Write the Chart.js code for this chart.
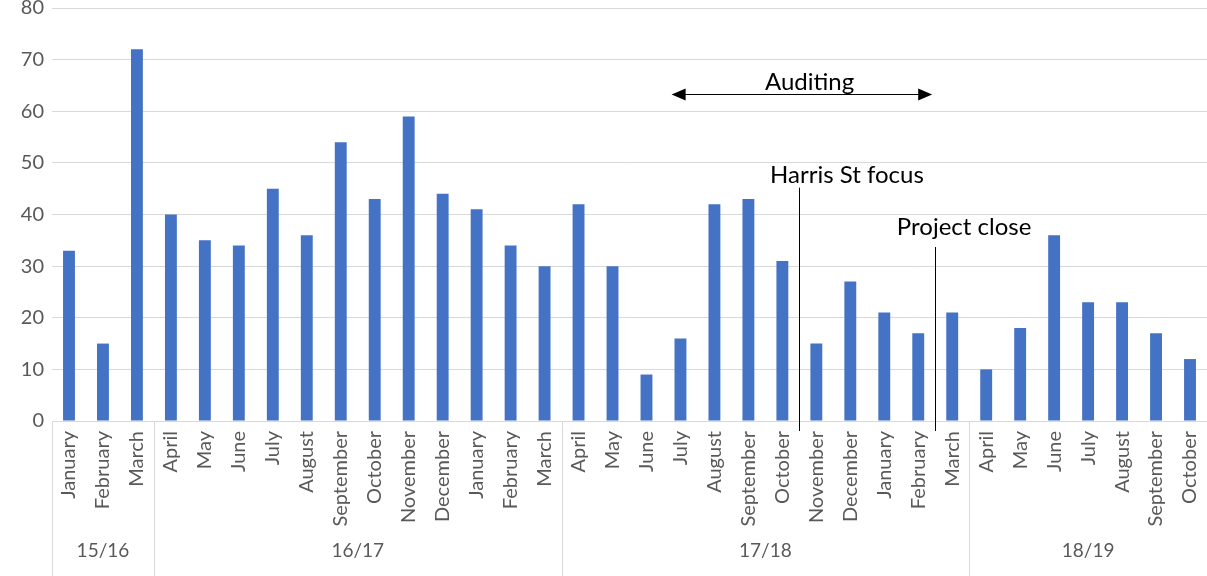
<!DOCTYPE html>
<html>
<head>
<meta charset="utf-8">
<script src="https://cdn.jsdelivr.net/npm/chart.js@4"></script>
<style>
  body { margin: 0; background: #fff; }
  #wrap { width: 1207px; height: 576px; }
</style>
</head>
<body>
<div id="wrap"><canvas id="chart" width="1207" height="576"></canvas></div>
<script>
// Data
const months = [
  'January', 'February', 'March',
  'April', 'May', 'June', 'July', 'August', 'September', 'October', 'November', 'December', 'January', 'February', 'March',
  'April', 'May', 'June', 'July', 'August', 'September', 'October', 'November', 'December', 'January', 'February', 'March',
  'April', 'May', 'June', 'July', 'August', 'September', 'October'
];
const counts = [
  33, 15, 72,
  40, 35, 34, 45, 36, 54, 43, 59, 44, 41, 34, 30,
  42, 30, 9, 16, 42, 43, 31, 15, 27, 21, 17, 21,
  10, 18, 36, 23, 23, 17, 12
];
const yearLabels = ['15/16', '16/17', '17/18', '18/19'];
const yearSizes = [3, 12, 12, 7];

// Annotations (positions in category index / value units)
const auditing = { label: 'Auditing', from: 17.74, to: 25.41, y: 63.4, textX: 21.8, textY: 65.6 };
const markers = [
  { label: 'Harris St focus', at: 21.5, top: 45.2, textX: 22.9, textY: 47.6 },
  { label: 'Project close', at: 25.5, top: 33.7, textX: 26.35, textY: 37.6 }
];

const FONT = 'Lato, "Open Sans", sans-serif';
const grey = '#595959';
const gridGrey = '#d9d9d9';

// -------------------- Plugin: year groups + annotations --------------------
const extrasPlugin = {
  id: 'extras',
  afterDraw(chart){
    const ctx = chart.ctx;
    const x = chart.scales.x;
    const y = chart.scales.y;
    const zero = y.getPixelForValue(0);
    const bottom = chart.height;

    ctx.save();
    // Year separators and labels
    ctx.strokeStyle = gridGrey;
    ctx.lineWidth = 1;
    ctx.fillStyle = grey;
    ctx.font = '19px ' + FONT;
    ctx.textAlign = 'center';
    ctx.textBaseline = 'middle';
    let start = 0;
    yearSizes.forEach((n, i) => {
      const left = x.getPixelForValue(start - 0.5);
      const right = x.getPixelForValue(start + n - 0.5);
      const lx = Math.round(left) + 0.5;
      ctx.beginPath();
      ctx.moveTo(lx, zero);
      ctx.lineTo(lx, bottom);
      ctx.stroke();
      ctx.fillText(yearLabels[i], (left + right) / 2, 551);
      start += n;
    });

    // Marker lines
    ctx.strokeStyle = '#000';
    ctx.fillStyle = '#000';
    ctx.font = '24px ' + FONT;
    markers.forEach(m => {
      const px = Math.round(x.getPixelForValue(m.at)) + 0.5;
      ctx.beginPath();
      ctx.moveTo(px, y.getPixelForValue(m.top));
      ctx.lineTo(px, zero + 10);
      ctx.stroke();
      ctx.fillText(m.label, x.getPixelForValue(m.textX), y.getPixelForValue(m.textY));
    });

    // Auditing arrow
    const ax1 = x.getPixelForValue(auditing.from);
    const ax2 = x.getPixelForValue(auditing.to);
    const ay = Math.round(y.getPixelForValue(auditing.y)) + 0.5;
    ctx.beginPath();
    ctx.moveTo(ax1 + 10, ay);
    ctx.lineTo(ax2 - 10, ay);
    ctx.stroke();
    ctx.beginPath();
    ctx.moveTo(ax1, ay);
    ctx.lineTo(ax1 + 14, ay - 6);
    ctx.lineTo(ax1 + 14, ay + 6);
    ctx.closePath();
    ctx.fill();
    ctx.beginPath();
    ctx.moveTo(ax2, ay);
    ctx.lineTo(ax2 - 14, ay - 6);
    ctx.lineTo(ax2 - 14, ay + 6);
    ctx.closePath();
    ctx.fill();
    ctx.fillText(auditing.label, x.getPixelForValue(auditing.textX), y.getPixelForValue(auditing.textY));
    ctx.restore();
  }
};

// -------------------- Chart --------------------
const chartCtx = document.getElementById('chart').getContext('2d');
new Chart(chartCtx, {
  type: 'bar',
  data: {
    labels: months,
    datasets: [{
      data: counts,
      backgroundColor: '#4472C4',
      barPercentage: 0.7,
      categoryPercentage: 0.5
    }]
  },
  options: {
    responsive: false,
    animation: false,
    layout: { padding: { top: 8, right: 0, left: 0, bottom: 0 } },
    plugins: { legend: { display: false }, tooltip: { enabled: false } },
    scales: {
      x: {
        grid: { display: false, drawTicks: false },
        border: { display: true, color: gridGrey, width: 1 },
        ticks: {
          color: grey,
          font: { family: FONT, size: 20 },
          minRotation: 90,
          maxRotation: 90,
          autoSkip: false,
          padding: 10
        },
        afterFit(scale){
          scale.height = 155;
          scale.paddingLeft = 0;
          scale.paddingRight = 0;
        }
      },
      y: {
        min: 0,
        max: 80,
        grid: { color: gridGrey, drawTicks: false },
        border: { display: false },
        ticks: {
          stepSize: 10,
          color: grey,
          font: { family: FONT, size: 20 },
          padding: 8
        },
        afterFit(scale){
          scale.width = 52;
          scale.paddingTop = 0;
          scale.paddingBottom = 0;
        }
      }
    }
  },
  plugins: [extrasPlugin]
});
</script>
</body>
</html>
